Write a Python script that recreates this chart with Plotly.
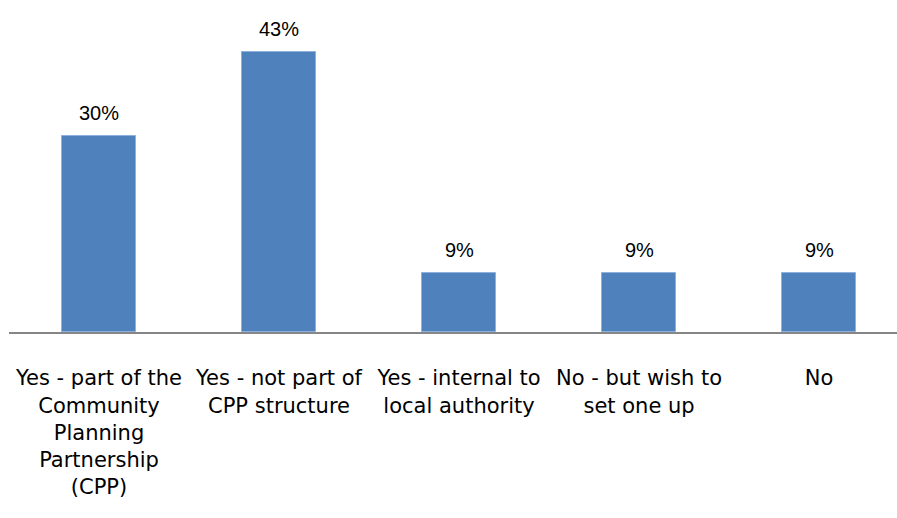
import plotly.graph_objects as go

categories = [
    "Yes - part of the<br>Community<br>Planning<br>Partnership<br>(CPP)",
    "Yes - not part of<br>CPP structure",
    "Yes - internal to<br>local authority",
    "No - but wish to<br>set one up",
    "No",
]
values = [30, 43, 9, 9, 9]
labels = ["30%", "43%", "9%", "9%", "9%"]

TICK_FONT = "DejaVu Sans, Liberation Sans, sans-serif"
LABEL_FONT = "Liberation Sans, Arial, sans-serif"

fig = go.Figure()
fig.add_trace(go.Bar(
    x=list(range(len(categories))),
    y=values,
    width=0.41,
    marker=dict(color="#4F81BD", line=dict(color="#8DB0DC", width=1)),
    hoverinfo="skip",
))
for i, (v, t) in enumerate(zip(values, labels)):
    fig.add_annotation(x=i, y=v, text=t, showarrow=False, yanchor="bottom",
                       yshift=10, font=dict(family=LABEL_FONT, size=20, color="#000000"))

fig.update_layout(
    width=897, height=518,
    margin=dict(l=9, r=0, t=0, b=186),
    paper_bgcolor="white", plot_bgcolor="white",
    showlegend=False,
    bargap=0,
    xaxis=dict(
        range=[-0.5, 4.433],
        tickmode="array",
        tickvals=list(range(len(categories))),
        ticktext=categories,
        showgrid=False, zeroline=False,
        showline=True, linecolor="#868686", linewidth=2,
        ticks="", ticklabelstandoff=26,
        tickfont=dict(family=TICK_FONT, size=21, color="#000000"),
        fixedrange=True,
    ),
    yaxis=dict(range=[0, 50.9], visible=False, fixedrange=True),
)

fig.write_html("out.html")
